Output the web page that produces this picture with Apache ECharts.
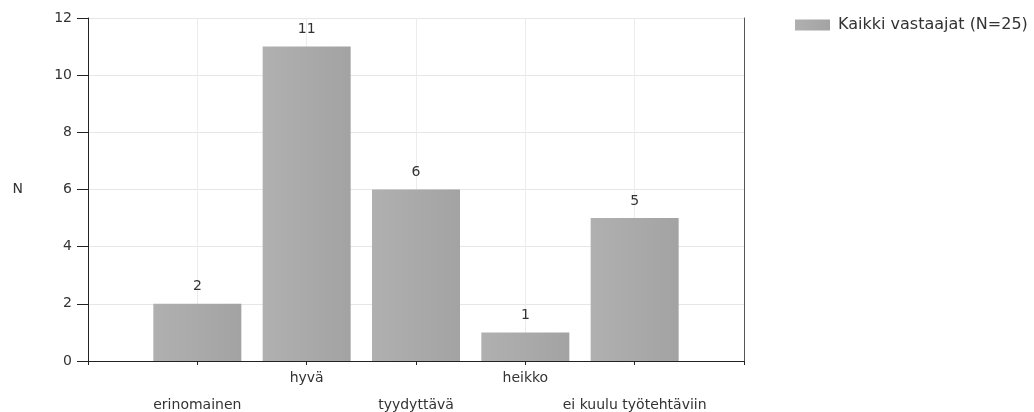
<!DOCTYPE html>
<html>
<head>
<meta charset="utf-8">
<script src="https://cdn.jsdelivr.net/npm/echarts@6/dist/echarts.min.js"></script>
<style>
  html, body { margin: 0; padding: 0; background: #ffffff; }
  #chart { width: 1034px; height: 412px; }
</style>
</head>
<body>
<div id="chart"></div>
<script>
// Answer categories and counts
const categories = ['erinomainen', 'hyvä', 'tyydyttävä', 'heikko', 'ei kuulu työtehtäviin'];
const counts = [2, 11, 6, 1, 5];
const seriesName = 'Kaikki vastaajat (N=25)';
const yTicks = [0, 2, 4, 6, 8, 10, 12];

// Empty slots at both ends so the bars sit on ticks with a half gap to each edge
const axisCats = [''].concat(categories, ['']);
const axisVals = [null].concat(counts, [null]);

const font = 'DejaVu Sans, Verdana, sans-serif';
const chart = echarts.init(document.getElementById('chart'), null, { renderer: 'canvas' });

chart.setOption({
  animation: false,
  backgroundColor: '#ffffff',
  textStyle: { fontFamily: font },
  grid: { left: 88, right: 290, top: 18, bottom: 51, containLabel: false, outerBoundsMode: 'none' },
  legend: {
    left: 795,
    top: 17,
    padding: 0,
    itemWidth: 35,
    itemHeight: 11,
    icon: 'rect',
    textStyle: { fontFamily: font, fontSize: 16, color: '#333333', padding: [0, 0, 0, 3] },
    data: [seriesName]
  },
  xAxis: {
    type: 'category',
    data: axisCats,
    boundaryGap: false,
    axisLine: { show: true, lineStyle: { color: '#222222', width: 1 } },
    axisTick: { show: true, interval: 0, length: 4, lineStyle: { color: '#222222' } },
    splitLine: { show: true, interval: 0, lineStyle: { color: '#ececec', width: 1 } },
    axisLabel: {
      interval: 0,
      margin: 4,
      fontFamily: font,
      fontSize: 14,
      lineHeight: 27,
      color: '#333333',
      formatter: function (v, i) { return (i % 2 === 1 ? '\n' : '') + v; }
    }
  },
  yAxis: [{
    type: 'value',
    min: yTicks[0],
    max: yTicks[yTicks.length - 1],
    interval: yTicks[1] - yTicks[0],
    name: 'N',
    nameLocation: 'middle',
    nameRotate: 0,
    nameGap: 65,
    nameTextStyle: { fontFamily: font, fontSize: 14, color: '#333333' },
    axisLine: { show: true, lineStyle: { color: '#222222', width: 1 } },
    axisTick: { show: true, length: 11, lineStyle: { color: '#222222' } },
    splitLine: { show: true, lineStyle: { color: '#e6e6e6', width: 1 } },
    axisLabel: { margin: 16, fontFamily: font, fontSize: 14, color: '#333333' }
  }, {
    type: 'value',
    position: 'right',
    min: yTicks[0],
    max: yTicks[yTicks.length - 1],
    interval: yTicks[1] - yTicks[0],
    axisLine: { show: true, lineStyle: { color: '#555555', width: 1 } },
    axisTick: { show: false },
    axisLabel: { show: false },
    splitLine: { show: false }
  }],
  series: [{
    name: seriesName,
    type: 'bar',
    yAxisIndex: 0,
    data: axisVals,
    barWidth: 88,
    itemStyle: {
      color: new echarts.graphic.LinearGradient(0, 0, 1, 0, [
        { offset: 0, color: '#b0b0b0' },
        { offset: 1, color: '#a3a3a3' }
      ]),
      borderWidth: 0
    },
    label: {
      show: true,
      position: 'top',
      distance: 10,
      fontFamily: font,
      fontSize: 14,
      color: '#333333'
    }
  }]
});
</script>
</body>
</html>
